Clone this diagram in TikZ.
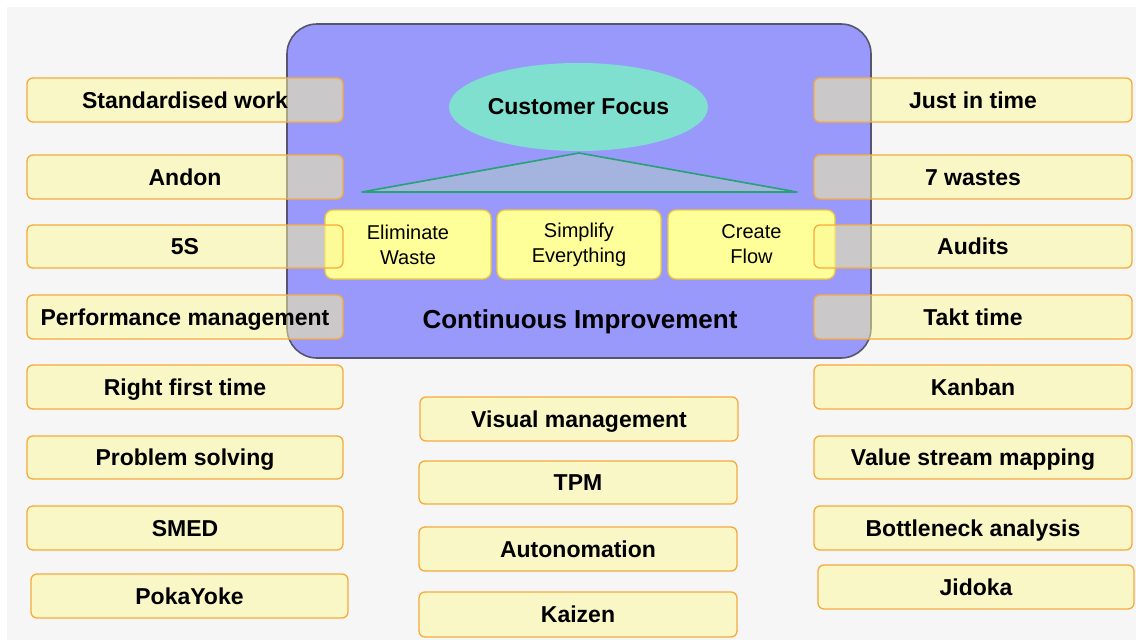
\documentclass[tikz,border=0pt]{standalone}
\usepackage{fontspec}
\setmainfont{Liberation Sans}
\usepackage{xcolor}
\usepackage{tikz}
\usetikzlibrary{shapes.geometric,positioning}
\definecolor{pagegray}{RGB}{246,246,246}
\definecolor{leanblue}{RGB}{153,153,252}
\definecolor{leanedge}{RGB}{85,85,110}
\definecolor{focusteal}{RGB}{128,224,208}
\definecolor{roofgreen}{RGB}{40,160,120}
\definecolor{rooffill}{RGB}{165,180,222}
\definecolor{pillarfill}{RGB}{255,255,153}
\definecolor{pillaredge}{RGB}{240,200,60}
\definecolor{toolfill}{RGB}{252,248,150}
\definecolor{tooledge}{RGB}{247,170,60}

\begin{document}
\begin{tikzpicture}[
  x=1pt, y=-1pt,
  house/.style={draw=leanedge, line width=1.6pt, fill=leanblue, rounded corners=30pt},
  focus/.style={ellipse, fill=focusteal, minimum width=259pt, minimum height=88pt,
                inner sep=0pt, font=\fontsize{23}{25}\selectfont\bfseries},
  roof/.style={draw=roofgreen, line width=1.6pt, fill=rooffill, line join=round},
  pillar/.style={rectangle, rounded corners=8pt, draw=pillaredge, line width=1.3pt,
                 fill=pillarfill, minimum height=69pt, inner sep=0pt, align=center,
                 font=\fontsize{20}{25}\selectfont},
  tool/.style={rectangle, rounded corners=6pt, draw=tooledge, line width=1.3pt,
               fill=toolfill, fill opacity=0.5, text opacity=1,
               minimum width=316pt, minimum height=44pt, inner sep=0pt,
               text height=18pt, text depth=1.5pt,
               font=\fontsize{23}{25}\selectfont\bfseries},
  motto/.style={font=\fontsize{26}{28}\selectfont\bfseries}
]
\useasboundingbox (0,0) rectangle (1136,640);
\fill[white] (0,0) rectangle (1136,640);
\fill[pagegray] (7,7) rectangle (1136,640);

% the house: customer focus on top, three principles underneath
\draw[house] (287,24) rectangle (871,358);
\node[focus] (cust) at (578.5,107) {Customer Focus};
\draw[roof] (579,153) -- (797,192) -- (362,192) -- cycle;
\node[pillar, minimum width=166pt] (waste) at (408,244.5) {Eliminate\\Waste};
\node[pillar, minimum width=164pt] (simple) at (579,244.5) {Simplify\\Everything};
\node[pillar, minimum width=167pt] (flow) at (751.5,244.5) {Create\\Flow};
\node[motto] (ci) at (580,322) {Continuous Improvement};

% left column of tools
\node[tool] (stdwork) at (185,100) {Standardised work};
\node[tool] (andon) at (185,177) {Andon};
\node[tool, minimum height=43pt] (fives) at (185,246.5) {5S};
\node[tool] (perf) at (185,317) {Performance management};
\node[tool] (rft) at (185,387) {Right first time};
\node[tool, minimum height=43pt] (probsolve) at (185,457.5) {Problem solving};
\node[tool] (smed) at (185,528) {SMED};
\node[tool, minimum width=317pt] (pokayoke) at (189.5,596) {PokaYoke};

% middle column
\node[tool, minimum width=318pt] (visual) at (579,419) {Visual management};
\node[tool, minimum width=318pt, minimum height=43pt] (tpm) at (578,482.5) {TPM};
\node[tool, minimum width=318pt] (autonom) at (578,549) {Autonomation};
\node[tool, minimum width=318pt, minimum height=45pt] (kaizen) at (578,614.5) {Kaizen};

% right column
\node[tool, minimum width=318pt] (jit) at (973,100) {Just in time};
\node[tool, minimum width=318pt] (wastes) at (973,177) {7 wastes};
\node[tool, minimum width=318pt, minimum height=43pt] (audits) at (973,246.5) {Audits};
\node[tool, minimum width=318pt] (takt) at (973,317) {Takt time};
\node[tool, minimum width=318pt] (kanban) at (973,387) {Kanban};
\node[tool, minimum width=318pt, minimum height=43pt] (vsm) at (973,457.5) {Value stream mapping};
\node[tool, minimum width=318pt] (bottle) at (973,528) {Bottleneck analysis};
\node[tool] (jidoka) at (976,587) {Jidoka};
\end{tikzpicture}
\end{document}
